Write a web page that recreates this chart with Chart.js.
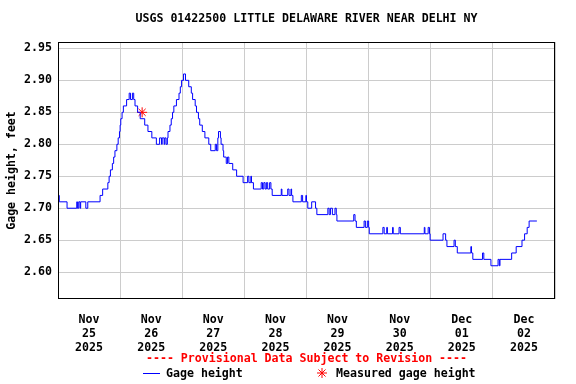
<!DOCTYPE html>
<html>
<head>
<meta charset="utf-8">
<script src="https://cdn.jsdelivr.net/npm/chart.js@4.4.1/dist/chart.umd.min.js"></script>
<style>
  html, body { margin: 0; padding: 0; background: #fff; }
  #wrap { width: 576px; height: 384px; }
</style>
</head>
<body>
<div id="wrap"><canvas id="chart" width="576" height="384"></canvas></div>
<script>
// hours since Nov 25 2025 00:00, gage height in feet (15-min data, 0.01 ft steps)
const hours = [
  0, 0.5, 3.5, 7.25, 7.5, 8, 8.5, 8.75, 10.75, 11.5,
  16.25, 17.25, 19.25, 19.75, 20.25, 21, 21.5, 22, 22.75, 23.25,
  23.75, 24, 24.25, 24.75, 25.25, 26.5, 27.5, 28, 28.75, 29.25,
  29.75, 30.75, 31.75, 33.5, 34.75, 36.25, 38, 39.25, 40, 40.25,
  41, 41.25, 41.75, 42.25, 42.5, 43.25, 43.75, 44.25, 44.75, 45.75,
  46.75, 47.25, 47.75, 48.5, 49.25, 50.5, 51.5, 52, 53, 53.5,
  54.25, 54.75, 55.75, 56.75, 58.25, 59, 60.75, 61.25, 61.75, 62,
  62.75, 63, 63.75, 64, 65, 65.5, 66, 67.5, 69, 71.5,
  73.25, 73.75, 74.5, 74.75, 75.5, 78.5, 79, 79.5, 80, 80.5,
  81, 81.75, 82.25, 82.75, 86.25, 86.5, 88.75, 89.25, 90, 90.25,
  90.75, 94, 94.5, 95.75, 96, 96.5, 98, 99.5, 100, 104.25,
  104.75, 105.25, 106, 107, 107.5, 107.75, 114.25, 114.75, 115.25, 118.25,
  118.75, 119.5, 120, 120.25, 125.5, 126, 127, 127.25, 129.25, 129.5,
  131.75, 132.25, 141.5, 141.75, 143, 143.5, 143.75, 148.75, 149.75, 150.25,
  153, 153.5, 154.25, 159.5, 159.75, 160.25, 164, 164.5, 167.25, 170,
  170.5, 170.75, 175.25, 177, 179.25, 180.25, 181.25, 182, 183.5, 185
];
const gageHeight = [
  2.73, 2.72, 2.71, 2.70, 2.71, 2.70, 2.71, 2.70, 2.71, 2.70,
  2.71, 2.72, 2.73, 2.74, 2.75, 2.76, 2.77, 2.78, 2.79, 2.80,
  2.81, 2.82, 2.83, 2.84, 2.85, 2.86, 2.87, 2.88, 2.87, 2.88,
  2.87, 2.86, 2.85, 2.84, 2.83, 2.82, 2.81, 2.80, 2.81, 2.80,
  2.81, 2.80, 2.81, 2.80, 2.81, 2.82, 2.83, 2.84, 2.85, 2.86,
  2.87, 2.88, 2.89, 2.90, 2.91, 2.90, 2.89, 2.88, 2.87, 2.86,
  2.85, 2.84, 2.83, 2.82, 2.81, 2.80, 2.79, 2.80, 2.79, 2.81,
  2.82, 2.81, 2.80, 2.79, 2.78, 2.77, 2.78, 2.77, 2.76, 2.75,
  2.74, 2.75, 2.74, 2.75, 2.74, 2.73, 2.74, 2.73, 2.74, 2.73,
  2.74, 2.73, 2.74, 2.73, 2.72, 2.73, 2.72, 2.73, 2.72, 2.73,
  2.72, 2.71, 2.72, 2.71, 2.72, 2.71, 2.70, 2.71, 2.70, 2.69,
  2.70, 2.69, 2.70, 2.69, 2.70, 2.69, 2.68, 2.69, 2.68, 2.67,
  2.68, 2.67, 2.68, 2.67, 2.66, 2.67, 2.66, 2.67, 2.66, 2.67,
  2.66, 2.67, 2.66, 2.67, 2.66, 2.67, 2.66, 2.65, 2.66, 2.65,
  2.64, 2.65, 2.64, 2.63, 2.64, 2.63, 2.62, 2.63, 2.62, 2.61,
  2.62, 2.61, 2.62, 2.63, 2.64, 2.65, 2.66, 2.67, 2.68, 2.68
];
const measuredHours = [32.5];
const measuredHeight = [2.85];

const dayLabels = [
  ['Nov', '25', '2025'], ['Nov', '26', '2025'], ['Nov', '27', '2025'], ['Nov', '28', '2025'],
  ['Nov', '29', '2025'], ['Nov', '30', '2025'], ['Dec', '01', '2025'], ['Dec', '02', '2025']
];
const yTicks = [2.60, 2.65, 2.70, 2.75, 2.80, 2.85, 2.90, 2.95];

const titleText = 'USGS 01422500 LITTLE DELAWARE RIVER NEAR DELHI NY';
const FAMILY = '"DejaVu Sans Mono", monospace';
const FONT = { family: FAMILY, size: 11.6, weight: 'bold', lineHeight: 1.2 };
const CSS_FONT = 'bold 11.6px ' + FAMILY;

// frame, title, provisional note and legend
const usgsDecor = {
  id: 'usgsDecor',
  afterDraw(chart) {
    const { ctx, chartArea: a } = chart;
    const mid = (a.left + a.right) / 2;
    ctx.save();
    ctx.strokeStyle = '#000';
    ctx.lineWidth = 1;
    ctx.strokeRect(Math.round(a.left) + 0.5, Math.round(a.top) + 0.5,
      Math.round(a.right - a.left) - 1, Math.round(a.bottom - a.top) - 1);

    ctx.font = CSS_FONT;
    ctx.textBaseline = 'middle';
    ctx.textAlign = 'center';
    ctx.fillStyle = '#000';
    ctx.fillText(titleText, mid, 19);

    ctx.fillStyle = '#ff0000';
    ctx.fillText('---- Provisional Data Subject to Revision ----', mid, 359);

    // legend
    ctx.textAlign = 'left';
    ctx.strokeStyle = '#0000ff';
    ctx.beginPath();
    ctx.moveTo(143, 373.5);
    ctx.lineTo(160, 373.5);
    ctx.stroke();
    ctx.fillStyle = '#000';
    ctx.fillText('Gage height', 166, 374);

    ctx.strokeStyle = '#ff0000';
    ctx.fillStyle = '#ff0000';
    Chart.helpers.drawPoint(ctx, {
      pointStyle: 'star', radius: 5, borderWidth: 1
    }, 322, 373);
    ctx.fillStyle = '#000';
    ctx.fillText('Measured gage height', 336, 374);
    ctx.restore();
  }
};

new Chart(document.getElementById('chart'), {
  type: 'line',
  data: {
    datasets: [
      {
        label: 'Gage height',
        data: hours.map((h, i) => ({ x: h, y: gageHeight[i] })),
        borderColor: '#0000ff',
        borderWidth: 1,
        pointRadius: 0,
        stepped: 'after',
        fill: false
      },
      {
        type: 'scatter',
        label: 'Measured gage height',
        data: measuredHours.map((h, i) => ({ x: h, y: measuredHeight[i] })),
        pointStyle: 'star',
        pointRadius: 5,
        borderColor: '#ff0000',
        backgroundColor: '#ff0000',
        borderWidth: 1
      }
    ]
  },
  options: {
    responsive: false,
    animation: false,
    layout: { padding: { top: 42, right: 21, left: 0, bottom: 0 } },
    plugins: {
      legend: { display: false },
      title: { display: false },
      tooltip: { enabled: false }
    },
    scales: {
      x: {
        type: 'linear',
        min: 0,
        max: 192,
        afterFit: (s) => { s.height = 85; },
        afterBuildTicks: (s) => {
          s.ticks = [];
          for (let v = 0; v <= 192; v += 12) s.ticks.push({ value: v });
        },
        grid: {
          drawTicks: false,
          color: (c) => (c.tick && c.tick.value % 24 === 0 ? '#cccccc' : 'rgba(0,0,0,0)')
        },
        border: { display: false },
        ticks: {
          autoSkip: false,
          maxRotation: 0,
          padding: 14,
          color: '#000',
          font: FONT,
          callback: (v) => (v % 24 === 12 ? dayLabels[(v - 12) / 24] : '')
        }
      },
      y: {
        min: 2.558,
        max: 2.96,
        afterFit: (s) => { s.width = 58; },
        afterBuildTicks: (s) => { s.ticks = yTicks.map((v) => ({ value: v })); },
        grid: { drawTicks: false, color: '#cccccc' },
        border: { display: false },
        ticks: {
          padding: 6,
          color: '#000',
          font: FONT,
          callback: (v) => v.toFixed(2)
        },
        title: {
          display: true,
          text: 'Gage height, feet',
          color: '#000',
          font: FONT,
          padding: { top: 5, bottom: 0 }
        }
      }
    }
  },
  plugins: [usgsDecor]
});
</script>
</body>
</html>
